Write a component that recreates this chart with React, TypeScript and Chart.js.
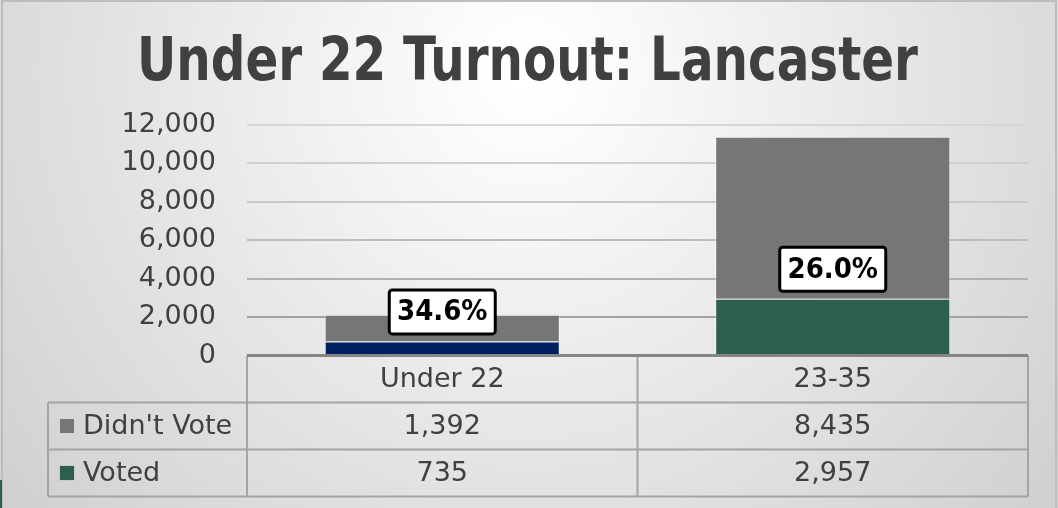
import React, { useEffect, useRef } from 'react';
import { Chart, registerables } from 'chart.js';

Chart.register(...registerables);

const titleText = 'Under 22 Turnout: Lancaster';
const categories = ['Under 22', '23-35'];
const seriesNames = ["Didn't Vote", 'Voted'];
const didntVote = [1392, 8435];
const voted = [735, 2957];
const yTicks = [0, 2000, 4000, 6000, 8000, 10000, 12000];

const didntColor = '#767676';
const votedColors = ['#002060', '#2E5E4E'];
const legendColors = ['#767676', '#2E5E4E'];
const gridColors = ['rgba(0,0,0,0)', '#a2a2a2', '#b0b0b0', '#bdbdbd', '#c8c8c8', '#d0d0d0', '#d6d6d6'];

const TEXT = '#404040';
const FONT = '"DejaVu Sans", sans-serif';
const TITLE_FONT = '"DejaVu Sans Condensed", "DejaVu Sans", sans-serif';

const fmt = (v: number) => v.toLocaleString('en-US');

const backgroundPlugin = {
  id: 'bgPlugin',
  beforeDraw(chart: any) {
    const { ctx, width, height } = chart;
    ctx.save();
    const g = ctx.createRadialGradient(529, 70, 20, 529, 70, 720);
    g.addColorStop(0, '#ffffff');
    g.addColorStop(1, '#cdcdcd');
    ctx.fillStyle = g;
    ctx.fillRect(0, 0, width, height);
    // frame
    ctx.strokeStyle = '#bdbdbd';
    ctx.lineWidth = 2;
    ctx.beginPath();
    ctx.moveTo(2, height);
    ctx.lineTo(2, 1);
    ctx.lineTo(width - 2, 1);
    ctx.lineTo(width - 2, height);
    ctx.stroke();
    // slide decoration sliver
    ctx.fillStyle = '#2E5E4E';
    ctx.fillRect(0, 480, 2, 28);
    ctx.restore();
  },
};

const overlayPlugin = {
  id: 'overlayPlugin',
  afterDraw(chart: any) {
    const { ctx, chartArea } = chart;
    const xs = chart.scales.x;
    ctx.save();

    // Title (condensed horizontally to the reference's width)
    ctx.fillStyle = TEXT;
    ctx.font = `bold 60px ${TITLE_FONT}`;
    ctx.textAlign = 'center';
    ctx.textBaseline = 'alphabetic';
    const tw = ctx.measureText(titleText).width;
    const sx = 781 / tw;
    ctx.save();
    ctx.translate(527.5, 80);
    ctx.scale(sx, 1);
    ctx.fillText(titleText, 0, 0);
    ctx.restore();

    // Data table
    const left = chartArea.left;
    const right = chartArea.right;
    const mid = (xs.getPixelForValue(0) + xs.getPixelForValue(1)) / 2;
    const top = chartArea.bottom;
    const rowH = 47;
    const legLeft = 48;
    const r1 = top + rowH;
    const r2 = top + rowH * 2;
    const r3 = top + rowH * 3;

    ctx.strokeStyle = '#a4a4a4';
    ctx.lineWidth = 2;
    ctx.beginPath();
    ctx.moveTo(left, top); ctx.lineTo(left, r3);
    ctx.moveTo(mid, top); ctx.lineTo(mid, r3);
    ctx.moveTo(right, top); ctx.lineTo(right, r3);
    ctx.moveTo(legLeft, r1); ctx.lineTo(legLeft, r3);
    ctx.moveTo(legLeft, r1); ctx.lineTo(right, r1);
    ctx.moveTo(legLeft, r2); ctx.lineTo(right, r2);
    ctx.moveTo(legLeft, r3); ctx.lineTo(right, r3);
    ctx.stroke();

    // axis line
    ctx.strokeStyle = '#858585';
    ctx.lineWidth = 3;
    ctx.beginPath();
    ctx.moveTo(left, top);
    ctx.lineTo(right, top);
    ctx.stroke();

    ctx.fillStyle = TEXT;
    ctx.font = `27px ${FONT}`;
    ctx.textBaseline = 'middle';
    ctx.textAlign = 'center';
    const colCenters = [(left + mid) / 2, (mid + right) / 2];
    categories.forEach((c, i) => ctx.fillText(c, colCenters[i], top + rowH / 2 + 1));
    const rows = [didntVote, voted];
    rows.forEach((vals, ri) => {
      const cy = top + rowH * (ri + 1) + rowH / 2 + 1;
      vals.forEach((v, i) => {
        ctx.fillStyle = TEXT;
        ctx.textAlign = 'center';
        ctx.fillText(fmt(v), colCenters[i], cy);
      });
      ctx.fillStyle = legendColors[ri];
      ctx.fillRect(59, cy - 9, 16, 16);
      ctx.strokeStyle = 'rgba(255,255,255,0.7)';
      ctx.lineWidth = 1;
      ctx.strokeRect(59.5, cy - 8.5, 15, 15);
      ctx.fillStyle = TEXT;
      ctx.textAlign = 'left';
      ctx.fillText(seriesNames[ri], 83, cy);
    });

    // Percentage boxes
    const meta = chart.getDatasetMeta(0);
    meta.data.forEach((bar: any, i: number) => {
      const pct = (voted[i] / (voted[i] + didntVote[i])) * 100;
      const w = 106;
      const h = 44;
      const bottom = bar.y - 7.5;
      const x0 = bar.x - w / 2;
      const y0 = bottom - h;
      ctx.beginPath();
      ctx.roundRect(x0, y0, w, h, 3);
      ctx.fillStyle = '#ffffff';
      ctx.fill();
      ctx.lineWidth = 3;
      ctx.strokeStyle = '#000000';
      ctx.stroke();
      ctx.fillStyle = '#000000';
      ctx.font = `bold 29px ${TITLE_FONT}`;
      ctx.textAlign = 'center';
      ctx.textBaseline = 'middle';
      ctx.fillText(pct.toFixed(1) + '%', bar.x, y0 + h / 2 + 1);
    });

    ctx.restore();
  },
};

export default function App() {
  const ref = useRef<HTMLCanvasElement | null>(null);

  useEffect(() => {
    document.body.style.margin = '0';
    if (!ref.current) return;
    const chart = new Chart(ref.current, {
      type: 'bar',
      data: {
        labels: categories,
        datasets: [
          {
            label: seriesNames[1],
            data: voted,
            backgroundColor: votedColors,
            borderColor: 'rgba(255,255,255,0.45)',
            borderWidth: 1,
            categoryPercentage: 1,
            barPercentage: 0.602,
          },
          {
            label: seriesNames[0],
            data: didntVote,
            backgroundColor: didntColor,
            borderColor: 'rgba(255,255,255,0.45)',
            borderWidth: 1,
            categoryPercentage: 1,
            barPercentage: 0.602,
          },
        ],
      },
      options: {
        animation: false,
        responsive: false,
        maintainAspectRatio: false,
        layout: { padding: { top: 125, right: 30, bottom: 152.5, left: 0 } },
        plugins: {
          legend: { display: false },
          title: { display: false },
          tooltip: { enabled: false },
        },
        scales: {
          x: {
            stacked: true,
            display: false,
            grid: { display: false },
          },
          y: {
            stacked: true,
            min: 0,
            max: 12000,
            border: { display: false },
            grid: {
              drawTicks: false,
              lineWidth: 2,
              color: (c: any) => gridColors[c.index] ?? '#cccccc',
            },
            ticks: {
              padding: 31,
              color: TEXT,
              font: { family: FONT, size: 27 },
              callback: (v: any) => fmt(Number(v)),
            },
            afterBuildTicks: (scale: any) => {
              scale.ticks = yTicks.map((v) => ({ value: v }));
            },
            afterFit: (scale: any) => {
              scale.width = 247;
            },
          },
        },
      },
      plugins: [backgroundPlugin, overlayPlugin],
    });
    return () => chart.destroy();
  }, []);

  return (
    <div style={{ width: 1058, height: 508 }}>
      <canvas ref={ref} width={1058} height={508} />
    </div>
  );
}
